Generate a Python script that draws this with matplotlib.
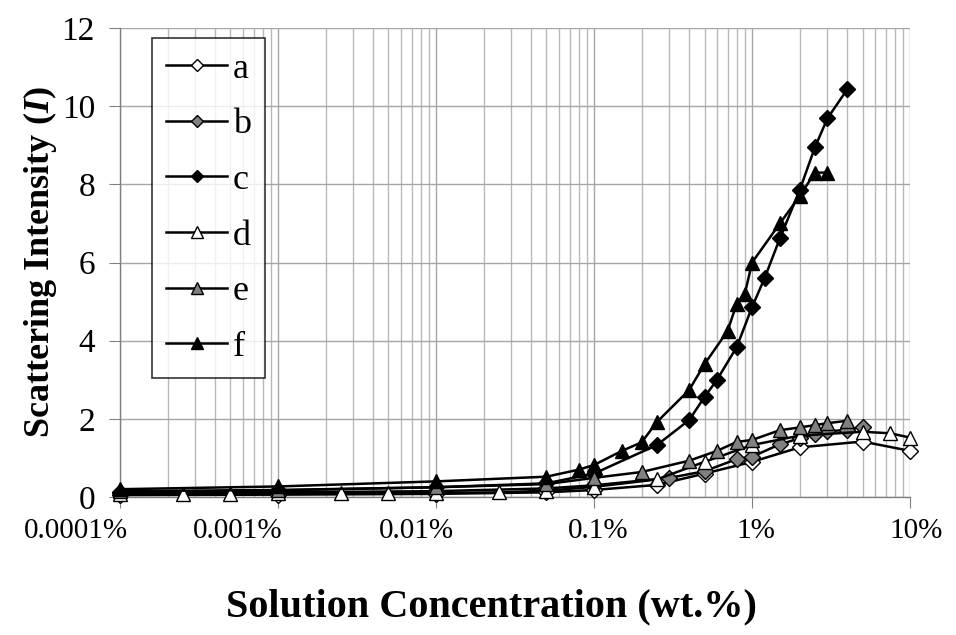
import numpy as np
import matplotlib
matplotlib.use("Agg")
import matplotlib.pyplot as plt
from matplotlib.ticker import FixedLocator, LogLocator, NullFormatter

plt.rcParams['font.family'] = ['Liberation Serif', 'DejaVu Serif']
plt.rcParams['mathtext.fontset'] = 'custom'
plt.rcParams['mathtext.it'] = 'Liberation Serif:italic:bold'
plt.rcParams['mathtext.rm'] = 'Liberation Serif:bold'

# concentration in wt.% and scattering intensity for each sample
x_a = [0.0001, 0.001, 0.01, 0.05, 0.1, 0.25, 0.5, 1, 2, 5, 10]
y_a = [0.05, 0.06, 0.08, 0.12, 0.18, 0.31, 0.6, 0.9, 1.27, 1.42, 1.18]

x_b = [0.0001, 0.001, 0.01, 0.05, 0.1, 0.3, 0.5, 0.8, 1, 1.5, 2, 2.5, 3, 4, 5]
y_b = [0.1, 0.12, 0.15, 0.22, 0.3, 0.49, 0.66, 0.97, 1.03, 1.35, 1.5, 1.6, 1.68, 1.72, 1.8]

x_c = [0.0001, 0.001, 0.01, 0.05, 0.1, 0.25, 0.4, 0.5, 0.6, 0.8, 1, 1.2, 1.5, 2, 2.5, 3, 4]
y_c = [0.12, 0.17, 0.25, 0.35, 0.6, 1.33, 1.97, 2.56, 3.0, 3.84, 4.86, 5.6, 6.62, 7.85, 8.95, 9.69, 10.43]

x_d = [0.0001, 0.00025, 0.0005, 0.001, 0.0025, 0.005, 0.01, 0.025, 0.05, 0.1,
       0.25, 0.5, 1, 2, 5, 7.5, 10]
y_d = [0.08, 0.08, 0.08, 0.09, 0.09, 0.1, 0.1, 0.12, 0.16, 0.26,
       0.45, 0.9, 1.33, 1.57, 1.67, 1.63, 1.52]

x_e = [0.0001, 0.001, 0.01, 0.05, 0.1, 0.2, 0.4, 0.6, 0.8, 1, 1.5, 2, 2.5, 3, 4]
y_e = [0.15, 0.18, 0.25, 0.33, 0.49, 0.64, 0.93, 1.18, 1.41, 1.46, 1.71, 1.78, 1.84, 1.89, 1.95]

x_f = [0.0001, 0.001, 0.01, 0.05, 0.08, 0.1, 0.15, 0.2, 0.25, 0.4, 0.5, 0.7, 0.8, 0.9,
       1, 1.5, 2, 2.5, 3]
y_f = [0.2, 0.27, 0.4, 0.52, 0.7, 0.82, 1.18, 1.4, 1.92, 2.74, 3.4, 4.25, 4.95, 5.2,
       6.0, 7.0, 7.7, 8.3, 8.3]

x_ticks = [0.0001, 0.001, 0.01, 0.1, 1, 10]
x_tick_labels = ['0.0001%', '0.001%', '0.01%', '0.1%', '1%', '10%']
y_ticks = [0, 2, 4, 6, 8, 10, 12]

series = [
    ('a', x_a, y_a, 'D', 'white'),
    ('b', x_b, y_b, 'D', '#808080'),
    ('c', x_c, y_c, 'D', 'black'),
    ('d', x_d, y_d, '^', 'white'),
    ('e', x_e, y_e, '^', '#808080'),
    ('f', x_f, y_f, '^', 'black'),
]

fig = plt.figure(figsize=(9.56, 6.35), dpi=100)
ax = fig.add_axes([0.1255, 0.2173, 0.8265, 0.7386])

for name, xs, ys, mk, fc in series:
    ms = 8 if mk == 'D' else 10
    ax.plot(xs, ys, color='black', lw=1.8, marker=mk, ms=ms,
            mfc=fc, mec='black', mew=1.0, label=name, clip_on=False, zorder=3)

ax.set_xscale('log')
ax.set_xlim(0.0001, 10)
ax.set_ylim(0, 12)
ax.xaxis.set_major_locator(FixedLocator(x_ticks))
ax.xaxis.set_minor_locator(LogLocator(base=10, subs=np.arange(2, 10)))
ax.xaxis.set_minor_formatter(NullFormatter())
ax.set_yticks(y_ticks)

ax.grid(True, which='major', color='#a6a6a6', lw=1.0)
ax.grid(True, which='minor', axis='x', color='#b8b8b8', lw=1.0)
ax.set_axisbelow(True)

for side in ['top', 'right']:
    ax.spines[side].set_visible(False)
for side in ['left', 'bottom']:
    ax.spines[side].set_color('#808080')
    ax.spines[side].set_linewidth(1.0)

ax.tick_params(axis='both', which='major', direction='out', length=8,
               color='#808080', pad=6)
ax.tick_params(axis='y', labelsize=24, pad=10)
ax.tick_params(axis='x', labelbottom=False)
ax.tick_params(axis='x', which='minor', length=0)

# x tick labels placed by hand: the crowded left-hand ones sit left of their ticks
label_shift_px = [-44, -40, -20, 4, 4, 6]
for xt, txt, dx in zip(x_ticks, x_tick_labels, label_shift_px):
    ax.annotate(txt, xy=(xt, 0), xycoords=('data', 'axes fraction'),
                xytext=(dx, -21), textcoords='offset pixels',
                ha='center', va='top', fontsize=21, annotation_clip=False)

ax.set_xlabel('Solution Concentration (wt.%)', fontsize=29, fontweight='bold', labelpad=58)
ax.xaxis.label.set_x(0.47)
ax.set_ylabel(r'Scattering Intensity ($\mathit{I}$)', fontsize=26, fontweight='bold', labelpad=2)

leg = ax.legend(loc='upper left', bbox_to_anchor=(0.04, 0.979), borderaxespad=0,
                fontsize=26, frameon=True, fancybox=False, edgecolor='black',
                handlelength=1.7, labelspacing=0.62, borderpad=0.4,
                handletextpad=0.15, markerscale=0.8)
leg.get_frame().set_linewidth(1.2)

fig.savefig('out.png', dpi=100)
